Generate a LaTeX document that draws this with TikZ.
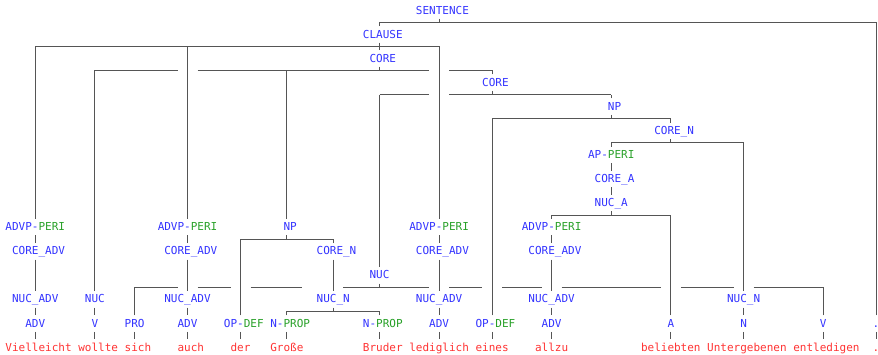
\documentclass[tikz,border=0pt]{standalone}
\usepackage{fontspec}
\usetikzlibrary{calc}
\newfontfamily\treemono{DejaVu Sans Mono}
\definecolor{lblue}{RGB}{51,51,255}
\definecolor{lgreen}{RGB}{40,160,40}
\definecolor{wred}{RGB}{255,51,51}
\definecolor{lgray}{RGB}{85,85,85}
\tikzset{
 lab/.style={text=lblue, inner sep=0pt, font=\treemono\fontsize{11}{13}\selectfont, anchor=base},
 word/.style={lab, text=wred},
 ln/.style={draw=lgray, line width=0.8pt},
}
% #1 style, #2 name, #3 column, #4 row, #5 offset, #6 text
\newcommand\lab[6]{%
 \node[#1] (#2) at ({#3+#5},{14+24.08*#4}) {#6};
 \coordinate (#2T) at (#3,{2+24.1*#4});
 \coordinate (#2B) at (#3,{18.5+24.1*#4});
 \coordinate (#2H) at (#3,{22.2+24.1*#4});
}
\newcommand\chain[2]{\draw[ln] (#1B) -- (#2T);}
\newcommand\kid[2]{\draw[ln] (#2T) -- (#2T |- #1H);}
\newcommand\stub[1]{\draw[ln] (#1B) -- (#1H);}
\newcommand\peri{\textcolor{lgreen}{PERI}}
\begin{document}
\begin{tikzpicture}[x=6.62pt,y=-1pt]
\useasboundingbox (0pt,0pt) rectangle (878pt,-354pt);
\begin{scope}[xshift=8.81pt]
% labels
\lab{lab}{sent}{65}{0}{.5}{SENTENCE}
\lab{lab}{clause}{56}{1}{.5}{CLAUSE}
\lab{lab}{coreA}{56}{2}{.5}{CORE}
\lab{lab}{coreB}{73}{3}{.5}{CORE}
\lab{lab}{npA}{91}{4}{.5}{NP}
\lab{lab}{corenA}{100}{5}{.5}{CORE\_N}
\lab{lab}{ap}{91}{6}{0}{AP-\peri}
\lab{lab}{corea}{91}{7}{.5}{CORE\_A}
\lab{lab}{nuca}{91}{8}{0}{NUC\_A}
\lab{lab}{advpA}{4}{9}{0}{ADVP-\peri}
\lab{lab}{advpB}{27}{9}{0}{ADVP-\peri}
\lab{lab}{npB}{42}{9}{.5}{NP}
\lab{lab}{advpC}{65}{9}{0}{ADVP-\peri}
\lab{lab}{advpD}{82}{9}{0}{ADVP-\peri}
\lab{lab}{cadvA}{4}{10}{.5}{CORE\_ADV}
\lab{lab}{cadvB}{27}{10}{.5}{CORE\_ADV}
\lab{lab}{corenB}{49}{10}{.5}{CORE\_N}
\lab{lab}{cadvC}{65}{10}{.5}{CORE\_ADV}
\lab{lab}{cadvD}{82}{10}{.5}{CORE\_ADV}
\lab{lab}{nucA}{56}{11}{0}{NUC}
\lab{lab}{nadvA}{4}{12}{0}{NUC\_ADV}
\lab{lab}{nucB}{13}{12}{0}{NUC}
\lab{lab}{nadvB}{27}{12}{0}{NUC\_ADV}
\lab{lab}{nucnA}{49}{12}{0}{NUC\_N}
\lab{lab}{nadvC}{65}{12}{0}{NUC\_ADV}
\lab{lab}{nadvD}{82}{12}{0}{NUC\_ADV}
\lab{lab}{nucnB}{111}{12}{0}{NUC\_N}
\lab{lab}{advA}{4}{13}{0}{ADV}
\lab{lab}{vA}{13}{13}{0}{V}
\lab{lab}{pro}{19}{13}{0}{PRO}
\lab{lab}{advB}{27}{13}{0}{ADV}
\lab{lab}{opdA}{35}{13}{.5}{OP-\textcolor{lgreen}{DEF}}
\lab{lab}{nprA}{42}{13}{.5}{N-\textcolor{lgreen}{PROP}}
\lab{lab}{nprB}{56}{13}{.5}{N-\textcolor{lgreen}{PROP}}
\lab{lab}{advC}{65}{13}{0}{ADV}
\lab{lab}{opdB}{73}{13}{.5}{OP-\textcolor{lgreen}{DEF}}
\lab{lab}{advD}{82}{13}{0}{ADV}
\lab{lab}{aA}{100}{13}{0}{A}
\lab{lab}{nA}{111}{13}{0}{N}
\lab{lab}{vB}{123}{13}{0}{V}
\lab{lab}{dotA}{131}{13}{0}{.}
% words
\lab{word}{wA}{4}{14}{.5}{Vielleicht}
\lab{word}{wB}{13}{14}{.5}{wollte}
\lab{word}{wC}{19}{14}{.5}{sich}
\lab{word}{wD}{27}{14}{.5}{auch}
\lab{word}{wE}{35}{14}{0}{der}
\lab{word}{wF}{42}{14}{0}{Große}
\lab{word}{wG}{56}{14}{.5}{Bruder}
\lab{word}{wH}{65}{14}{0}{lediglich}
\lab{word}{wI}{73}{14}{0}{eines}
\lab{word}{wJ}{82}{14}{0}{allzu}
\lab{word}{wK}{100}{14}{0}{beliebten}
\lab{word}{wL}{111}{14}{.5}{Untergebenen}
\lab{word}{wM}{123}{14}{.5}{entledigen}
\lab{word}{wN}{131}{14}{0}{.}
% SENTENCE
\stub{sent}\kid{sent}{clause}\kid{sent}{dotA}
\draw[ln] (clauseT |- sentH) -- (dotAT |- sentH);
% CLAUSE
\stub{clause}\kid{clause}{advpA}\kid{clause}{advpB}\kid{clause}{coreA}\kid{clause}{advpC}
\draw[ln] (advpAT |- clauseH) -- (advpCT |- clauseH);
% CORE (outer)
\stub{coreA}\kid{coreA}{nucB}\kid{coreA}{npB}\kid{coreA}{coreB}
\draw[ln] (nucBT |- coreAH) -- ($(advpBT |- coreAH)+(-10pt,0)$)
  ($(advpBT |- coreAH)+(10pt,0)$) -- ($(advpCT |- coreAH)+(-10pt,0)$)
  ($(advpCT |- coreAH)+(10pt,0)$) -- (coreBT |- coreAH);
% CORE (inner)
\stub{coreB}\kid{coreB}{nucA}\kid{coreB}{npA}
\draw[ln] (nucAT |- coreBH) -- ($(advpCT |- coreBH)+(-10pt,0)$)
  ($(advpCT |- coreBH)+(10pt,0)$) -- (npAT |- coreBH);
% NP (right)
\stub{npA}\kid{npA}{opdB}\kid{npA}{corenA}
\draw[ln] (opdBT |- npAH) -- (corenAT |- npAH);
% CORE_N (right)
\stub{corenA}\kid{corenA}{ap}\kid{corenA}{nucnB}
\draw[ln] (apT |- corenAH) -- (nucnBT |- corenAH);
\chain{ap}{corea}\chain{corea}{nuca}
% NUC_A
\stub{nuca}\kid{nuca}{advpD}\kid{nuca}{aA}
\draw[ln] (advpDT |- nucaH) -- (aAT |- nucaH);
% adverb chains
\chain{advpA}{cadvA}\chain{cadvA}{nadvA}\chain{nadvA}{advA}\chain{advA}{wA}
\chain{advpB}{cadvB}\chain{cadvB}{nadvB}\chain{nadvB}{advB}\chain{advB}{wD}
\chain{advpC}{cadvC}\chain{cadvC}{nadvC}\chain{nadvC}{advC}\chain{advC}{wH}
\chain{advpD}{cadvD}\chain{cadvD}{nadvD}\chain{nadvD}{advD}\chain{advD}{wJ}
% NP (left)
\stub{npB}\kid{npB}{opdA}\kid{npB}{corenB}
\draw[ln] (opdAT |- npBH) -- (corenBT |- npBH);
\chain{corenB}{nucnA}
% NUC (sich ... entledigen)
\stub{nucA}\kid{nucA}{pro}\kid{nucA}{vB}
\draw[ln] (proT |- nucAH) -- ($(nadvBT |- nucAH)+(-10pt,0)$)
  ($(nadvBT |- nucAH)+(10pt,0)$) -- ($(opdAT |- nucAH)+(-10pt,0)$)
  ($(opdAT |- nucAH)+(10pt,0)$) -- ($(nucnAT |- nucAH)+(-31pt,0)$)
  ($(nucnAT |- nucAH)+(10pt,0)$) -- ($(nadvCT |- nucAH)+(-10pt,0)$)
  ($(nadvCT |- nucAH)+(10pt,0)$) -- ($(opdBT |- nucAH)+(-10pt,0)$)
  ($(opdBT |- nucAH)+(10pt,0)$) -- ($(nadvDT |- nucAH)+(-10pt,0)$)
  ($(nadvDT |- nucAH)+(10pt,0)$) -- ($(aAT |- nucAH)+(-10pt,0)$)
  ($(aAT |- nucAH)+(10pt,0)$) -- ($(nucnBT |- nucAH)+(-10pt,0)$)
  ($(nucnBT |- nucAH)+(10pt,0)$) -- (vBT |- nucAH);
% NUC_N (Große Bruder)
\stub{nucnA}\kid{nucnA}{nprA}\kid{nucnA}{nprB}
\draw[ln] (nprAT |- nucnAH) -- (nprBT |- nucnAH);
% remaining chains
\chain{nucB}{vA}\chain{vA}{wB}
\chain{nucnB}{nA}\chain{nA}{wL}
\chain{pro}{wC}\chain{opdA}{wE}\chain{nprA}{wF}\chain{nprB}{wG}
\chain{opdB}{wI}\chain{aA}{wK}\chain{vB}{wM}\chain{dotA}{wN}
\end{scope}
\end{tikzpicture}
\end{document}
